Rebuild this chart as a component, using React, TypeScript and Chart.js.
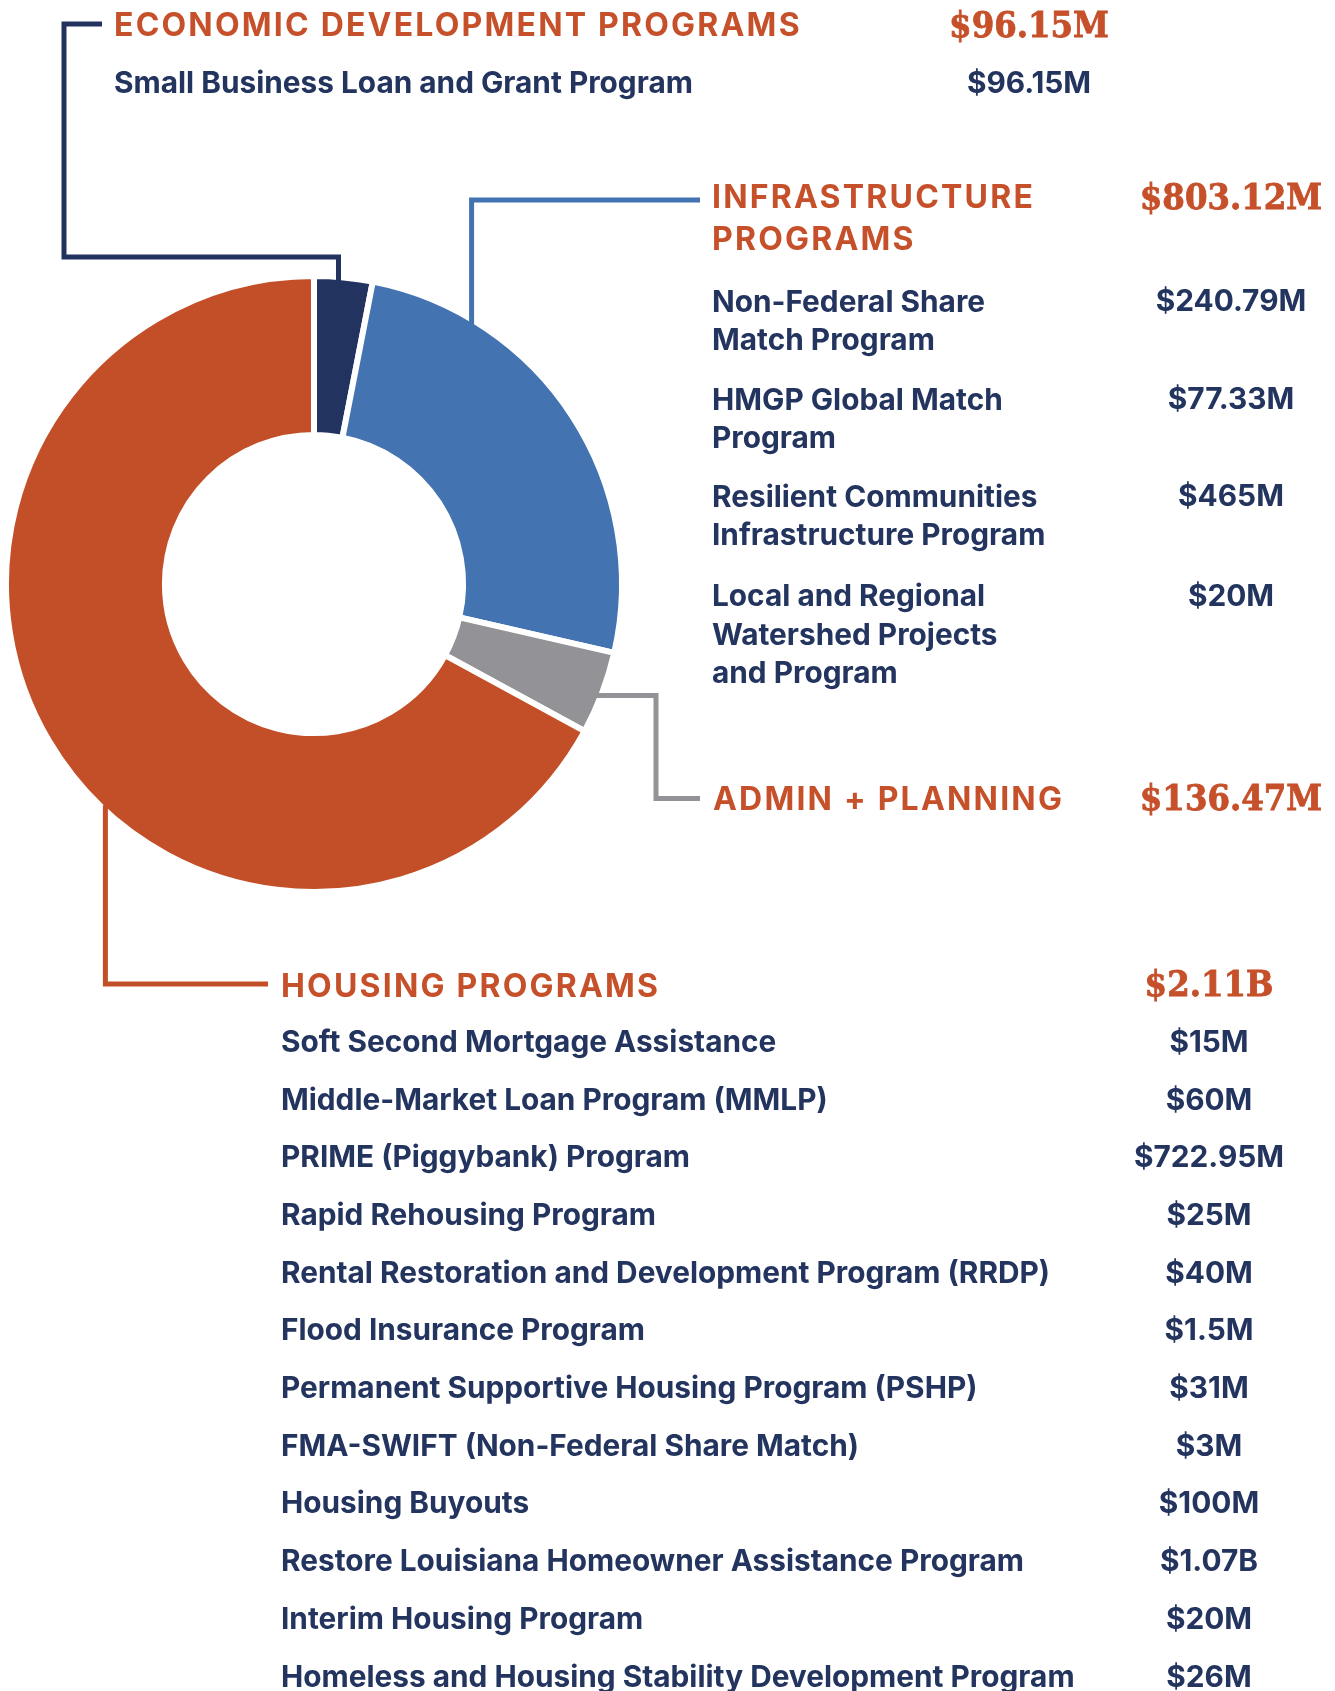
import React, { useEffect, useRef } from "react";
import { Chart, registerables } from "chart.js";

Chart.register(...registerables);

const W = 1335;
const H = 1691;

// ---- Data ----
const categories = ["Economic Development Programs", "Infrastructure Programs", "Admin + Planning", "Housing Programs"];
const categoryValues = [96.15, 803.12, 136.47, 2110];
const categoryColors = ["#22335F", "#4373B0", "#939297", "#C34F28"];
const categoryTitles = ["ECONOMIC DEVELOPMENT PROGRAMS", "INFRASTRUCTURE\nPROGRAMS", "ADMIN + PLANNING", "HOUSING PROGRAMS"];
const categoryTotals = ["$96.15M", "$803.12M", "$136.47M", "$2.11B"];

const econPrograms = ["Small Business Loan and Grant Program"];
const econAmounts = ["$96.15M"];

const infraPrograms = [
  "Non-Federal Share\nMatch Program",
  "HMGP Global Match\nProgram",
  "Resilient Communities\nInfrastructure Program",
  "Local and Regional\nWatershed Projects\nand Program",
];
const infraAmounts = ["$240.79M", "$77.33M", "$465M", "$20M"];

const housingPrograms = [
  "Soft Second Mortgage Assistance",
  "Middle-Market Loan Program (MMLP)",
  "PRIME (Piggybank) Program",
  "Rapid Rehousing Program",
  "Rental Restoration and Development Program (RRDP)",
  "Flood Insurance Program",
  "Permanent Supportive Housing Program (PSHP)",
  "FMA-SWIFT (Non-Federal Share Match)",
  "Housing Buyouts",
  "Restore Louisiana Homeowner Assistance Program",
  "Interim Housing Program",
  "Homeless and Housing Stability Development Program",
];
const housingAmounts = ["$15M", "$60M", "$722.95M", "$25M", "$40M", "$1.5M", "$31M", "$3M", "$100M", "$1.07B", "$20M", "$26M"];

// ---- Styles ----
const ORANGE = "#C5502A";
const NAVY = "#23345F";
const SANS = "Inter, 'Open Sans', sans-serif";
const SLAB = "'DejaVu Serif Condensed', 'DejaVu Serif', serif";
const BODY_SIZE = 29.8;
const HEAD_SIZE = 32;
const HEAD_LS = 2.2;
const SLAB_SIZE = 36;

type TProps = {
  x: number; cy: number; text: string; size: number; color: string; family: string;
  weight?: number; lh?: number; align?: "left" | "center"; ls?: number; stroke?: number;
};
function T({ x, cy, text, size, color, family, weight = 700, lh, align = "left", ls = 0, stroke = 0 }: TProps) {
  const lineH = lh ?? size * 1.2;
  const style: React.CSSProperties = {
    position: "absolute",
    top: cy - lineH / 2,
    left: align === "center" ? x - 300 : x,
    width: align === "center" ? 600 : undefined,
    textAlign: align,
    fontFamily: family,
    fontWeight: weight,
    fontSize: size,
    lineHeight: `${lineH}px`,
    letterSpacing: ls,
    color,
    whiteSpace: "pre",
    margin: 0,
    WebkitTextStroke: stroke ? `${stroke}px ${color}` : undefined,
  };
  return <div style={style}>{text}</div>;
}

// connector anchors: fraction along each arc + path after the anchor
const connectorPlugin = {
  id: "connectors",
  afterDatasetsDraw(chart: any) {
    const meta = chart.getDatasetMeta(0);
    const ctx: CanvasRenderingContext2D = chart.ctx;
    const anchor = (i: number, f: number) => {
      const a: any = meta.data[i];
      const ang = a.startAngle + f * (a.endAngle - a.startAngle);
      const r = a.outerRadius - 4;
      return [a.x + r * Math.cos(ang), a.y + r * Math.sin(ang)];
    };
    const draw = (color: string, pts: number[][]) => {
      ctx.save();
      ctx.strokeStyle = color;
      ctx.lineWidth = 5;
      ctx.lineJoin = "miter";
      ctx.lineCap = "butt";
      ctx.beginPath();
      pts.forEach((p, k) => (k === 0 ? ctx.moveTo(p[0], p[1]) : ctx.lineTo(p[0], p[1])));
      ctx.stroke();
      ctx.restore();
    };
    const [ex, ey] = anchor(0, 0.42);
    draw(categoryColors[0], [[ex, ey], [ex, 257], [64, 257], [64, 24], [102, 24]]);
    const [bx, by] = anchor(1, 0.22);
    draw(categoryColors[1], [[bx, by], [bx, 200], [700, 200]]);
    const [gx, gy] = anchor(2, 0.55);
    draw(categoryColors[2], [[gx, gy], [656, gy], [656, 798.5], [700, 798.5]]);
    const [ox, oy] = anchor(3, 0.434);
    draw(categoryColors[3], [[ox, oy], [ox, 984], [268, 984]]);
  },
};

const infraRows = [301, 399, 496, 595.7];

export default function App() {
  const ref = useRef<HTMLCanvasElement | null>(null);

  useEffect(() => {
    document.body.style.margin = "0";
    const canvas = ref.current!;
    const chart = new Chart(canvas, {
      type: "doughnut",
      data: {
        labels: categories,
        datasets: [
          {
            data: categoryValues,
            backgroundColor: categoryColors,
            borderColor: "#ffffff",
            borderWidth: 6,
            hoverOffset: 0,
          },
        ],
      },
      options: {
        responsive: false,
        animation: false,
        cutout: "48.4%",
        layout: { padding: { left: 3, top: 273, right: 710, bottom: 796 } },
        plugins: { legend: { display: false }, tooltip: { enabled: false } },
        events: [],
      },
      plugins: [connectorPlugin],
    });
    return () => chart.destroy();
  }, []);

  return (
    <div style={{ position: "relative", width: W, height: H, background: "#fff", overflow: "hidden" }}>
      <canvas ref={ref} width={W} height={H} style={{ position: "absolute", left: 0, top: 0, width: W, height: H }} />

      {/* Economic development */}
      <T x={114} cy={25.3} text={categoryTitles[0]} size={HEAD_SIZE} color={ORANGE} family={SANS} ls={HEAD_LS} />
      <T x={1029} cy={25} text={categoryTotals[0]} size={SLAB_SIZE} color={ORANGE} family={SLAB} align="center" stroke={0.8} />
      {econPrograms.map((p) => (
        <T key={p} x={114} cy={82.5} text={p} size={BODY_SIZE} color={NAVY} family={SANS} />
      ))}
      {econAmounts.map((a) => (
        <T key={a} x={1029} cy={82.5} text={a} size={BODY_SIZE} color={NAVY} family={SANS} align="center" />
      ))}

      {/* Infrastructure */}
      <T x={712} cy={197.3} text={categoryTitles[1]} size={HEAD_SIZE} color={ORANGE} family={SANS} ls={HEAD_LS} lh={42} />
      <T x={1231} cy={197} text={categoryTotals[1]} size={SLAB_SIZE} color={ORANGE} family={SLAB} align="center" stroke={0.8} />
      {infraPrograms.map((p, i) => (
        <T key={p} x={712} cy={infraRows[i]} text={p} size={BODY_SIZE} color={NAVY} family={SANS} lh={38.5} />
      ))}
      {infraAmounts.map((a, i) => (
        <T key={a} x={1231} cy={infraRows[i]} text={a} size={BODY_SIZE} color={NAVY} family={SANS} align="center" />
      ))}

      {/* Admin */}
      <T x={713} cy={799} text={categoryTitles[2]} size={HEAD_SIZE} color={ORANGE} family={SANS} ls={HEAD_LS} />
      <T x={1231} cy={797.5} text={categoryTotals[2]} size={SLAB_SIZE} color={ORANGE} family={SLAB} align="center" stroke={0.8} />

      {/* Housing */}
      <T x={281} cy={986} text={categoryTitles[3]} size={HEAD_SIZE} color={ORANGE} family={SANS} ls={HEAD_LS} />
      <T x={1209} cy={984} text={categoryTotals[3]} size={SLAB_SIZE} color={ORANGE} family={SLAB} align="center" stroke={0.8} />
      {housingPrograms.map((p, i) => (
        <T key={p} x={281} cy={1041.7 + i * 57.7} text={p} size={BODY_SIZE} color={NAVY} family={SANS} />
      ))}
      {housingAmounts.map((a, i) => (
        <T key={a + i} x={1209} cy={1041.7 + i * 57.7} text={a} size={BODY_SIZE} color={NAVY} family={SANS} align="center" />
      ))}
    </div>
  );
}
